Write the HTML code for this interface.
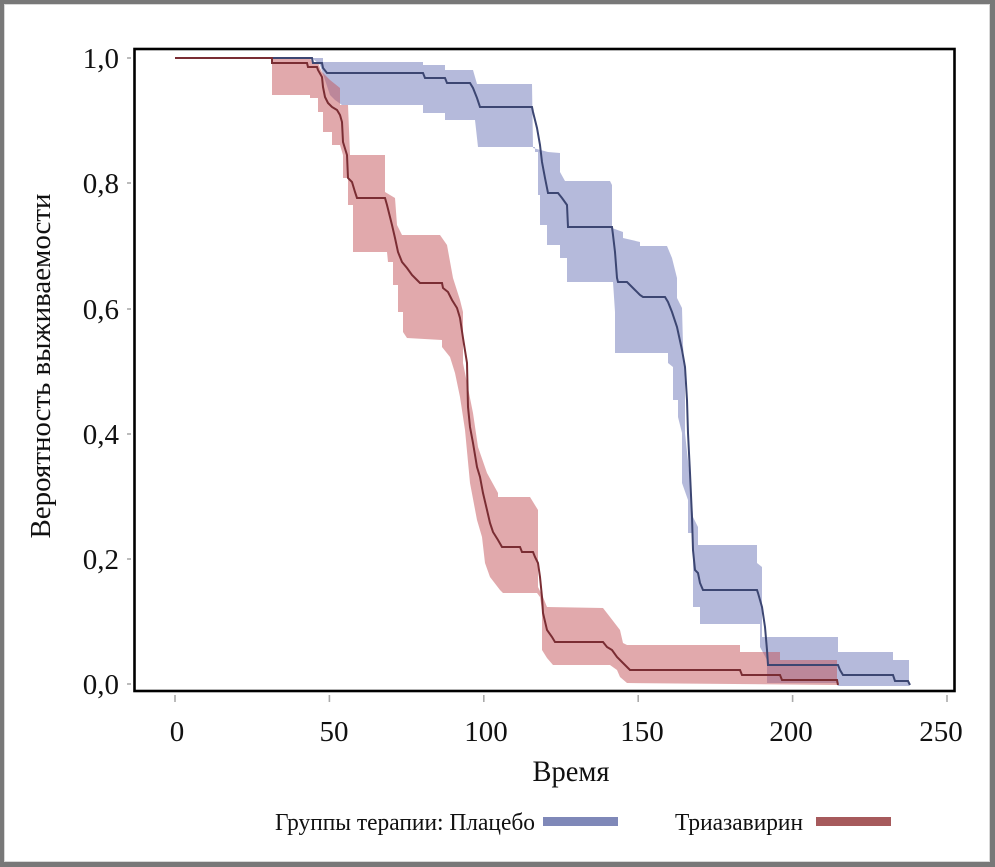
<!DOCTYPE html>
<html>
<head>
<meta charset="utf-8">
<style>
  html,body{margin:0;padding:0;background:#fff;}
  svg{display:block;}
  text{font-family:"Liberation Serif","DejaVu Serif",serif;fill:#111;}
</style>
</head>
<body>
<svg width="995" height="867" viewBox="0 0 995 867" xmlns="http://www.w3.org/2000/svg">
  <!-- outer border -->
  <rect x="0" y="0" width="995" height="867" fill="#787878"/>
  <rect x="4" y="4" width="986" height="858" fill="#d8d8d8"/>
  <rect x="5" y="5" width="984" height="856" fill="#ffffff"/>

  <!-- blue CI band -->
  <polygon fill="rgb(100,110,180)" fill-opacity="0.48" points="
    312,58 323,58 323,62 423,62 423,65 445,65 445,70 473,70 477,84 532,84 533,148 548,152 560,153 560,172 565,181
    610,181 612,185 612,228 623,232 623,238 640,242 640,246 667,246 672,258 677,278 677,298 682,308 683,345 685,383
    685,433 690,480 693,517 698,527 698,545 757,545 757,563 762,567 762,637 838,637 838,652 893,652 893,660 909,660 909,686
    838,686 838,683 767,683 767,660 760,647 760,624 700,624 700,607 693,607 693,533 688,533 688,500 682,483 682,433
    678,417 678,400 673,400 673,367 668,363 668,353 615,353 615,312 613,282 567,282 567,258 560,258 560,245 547,245
    547,225 540,225 540,195 538,195 538,152 535,152 535,147 478,147 475,120 445,120 445,113 423,113 423,105 342,105
    335,100 330,95 325,80 320,65"/>

  <!-- red CI band -->
  <polygon fill="rgb(196,84,90)" fill-opacity="0.5" points="
    272,58 310,58 312,62 318,62 320,68 322,72 330,80 340,88 340,105 348,105 350,155 385,155 385,192 395,198 397,225
    402,235 440,235 447,245 453,278 460,300 463,312 463,363 473,413 478,447 487,473 498,493 498,497 530,497 538,510
    538,587 543,597 547,607 603,608 610,617 620,630 623,643 627,645 740,645 740,652 780,652 780,660 837,660 837,685
    627,683 620,677 617,670 610,665 553,665 547,658 542,650 542,610 540,597 537,593 503,593 500,590 490,577 485,563
    482,537 477,520 470,483 465,430 460,397 455,373 450,357 442,347 442,340 407,338 403,332 403,312 398,312 398,285
    393,285 393,262 388,262 387,252 353,252 353,205 348,205 348,178 343,178 343,155 340,145 332,145 332,132 323,132
    323,112 318,112 318,98 310,98 310,95 272,95"/>

  <!-- blue line -->
  <polyline fill="none" stroke="#3c4672" stroke-width="2" stroke-linejoin="miter" points="
    175,58 312,58 313,63 322,63 323,68 327,73 423,73 425,78 445,78 447,83 470,83 473,88 477,98 480,107 532,107
    533,112 537,128 540,145 542,162 545,178 548,193 558,193 562,198 567,205 568,227 612,227 613,235 615,252 617,278
    618,282 627,282 630,285 635,290 640,295 643,297 665,297 668,302 672,312 677,327 682,350 685,367 687,400 688,433
    690,473 692,517 693,550 695,570 698,573 700,583 703,590 757,590 758,593 762,607 765,627 767,650 768,665 838,665
    840,670 843,675 893,675 895,681 908,681 910,685"/>

  <!-- red line -->
  <polyline fill="none" stroke="#7a2d33" stroke-width="2" stroke-linejoin="miter" points="
    175,58 272,58 272,63 307,63 308,67 317,67 318,70 322,77 323,87 325,97 328,103 332,107 337,110 340,115 342,122
    343,142 347,155 348,178 352,182 355,192 357,198 385,198 387,205 392,225 395,238 398,252 402,262 407,268 412,275
    417,280 420,283 442,283 443,288 448,292 452,300 457,308 460,318 463,338 467,363 468,407 470,427 473,443 477,467
    480,477 483,493 487,510 490,523 493,532 498,540 502,547 520,547 522,552 533,552 535,557 538,563 540,577 542,597
    543,613 547,630 552,637 555,642 603,642 607,647 612,650 617,657 622,662 627,667 630,670 740,670 742,675 780,675
    782,680 837,680 838,685"/>

  <!-- plot frame -->
  <rect x="134.5" y="49" width="820" height="642" fill="none" stroke="#000" stroke-width="2.6"/>

  <!-- y ticks -->
  <g stroke="#aaaaaa" stroke-width="1.6">
    <line x1="127" y1="58" x2="131" y2="58"/>
    <line x1="127" y1="183" x2="131" y2="183"/>
    <line x1="127" y1="309" x2="131" y2="309"/>
    <line x1="127" y1="434" x2="131" y2="434"/>
    <line x1="127" y1="559" x2="131" y2="559"/>
    <line x1="127" y1="684" x2="131" y2="684"/>
  </g>
  <!-- x ticks -->
  <g stroke="#aaaaaa" stroke-width="1.6">
    <line x1="175" y1="695" x2="175" y2="702"/>
    <line x1="329.4" y1="695" x2="329.4" y2="702"/>
    <line x1="483.8" y1="695" x2="483.8" y2="702"/>
    <line x1="638.2" y1="695" x2="638.2" y2="702"/>
    <line x1="792.6" y1="695" x2="792.6" y2="702"/>
    <line x1="947" y1="695" x2="947" y2="702"/>
  </g>

  <!-- y tick labels -->
  <g font-size="29" text-anchor="end">
    <text x="119" y="68">1,0</text>
    <text x="119" y="193">0,8</text>
    <text x="119" y="319">0,6</text>
    <text x="119" y="444">0,4</text>
    <text x="119" y="569">0,2</text>
    <text x="119" y="694">0,0</text>
  </g>

  <!-- x tick labels -->
  <g font-size="29" text-anchor="middle">
    <text x="177" y="741">0</text>
    <text x="334" y="741">50</text>
    <text x="486" y="741">100</text>
    <text x="642" y="741">150</text>
    <text x="791" y="741">200</text>
    <text x="941" y="741">250</text>
  </g>

  <!-- axis titles -->
  <text x="571" y="781" font-size="30" text-anchor="middle" textLength="77" lengthAdjust="spacingAndGlyphs">Время</text>
  <text transform="translate(50,366) rotate(-90)" font-size="29" text-anchor="middle" textLength="345" lengthAdjust="spacingAndGlyphs">Вероятность выживаемости</text>

  <!-- legend -->
  <text x="275" y="830" font-size="24" textLength="260" lengthAdjust="spacingAndGlyphs">Группы терапии: Плацебо</text>
  <rect x="543" y="817" width="75" height="9" fill="#7f88b8"/>
  <text x="675" y="830" font-size="24" textLength="128" lengthAdjust="spacingAndGlyphs">Триазавирин</text>
  <rect x="816" y="817" width="75" height="9" fill="#a65a5c"/>
</svg>
</body>
</html>
